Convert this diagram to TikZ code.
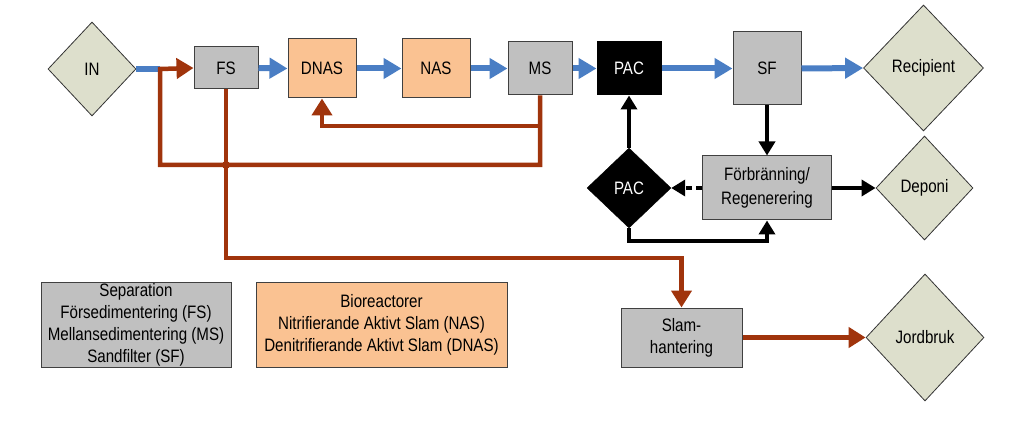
\documentclass[tikz,border=0pt]{standalone}
\usepackage{fontspec}
\setmainfont{Liberation Sans}[FakeStretch=0.84]
\usetikzlibrary{shapes.geometric,arrows.meta}
\definecolor{flowblue}{RGB}{74,126,196}
\definecolor{sludge}{RGB}{160,52,12}
\definecolor{boxgray}{RGB}{192,192,192}
\definecolor{peach}{RGB}{250,194,146}
\definecolor{dfill}{RGB}{221,223,204}
\begin{document}
\begin{tikzpicture}[x=1pt,y=-1pt,
  font=\fontsize{18}{22}\selectfont,
  graybox/.style={draw=black!75, fill=boxgray, line width=1pt, inner sep=0pt, align=center},
  peachbox/.style={draw=black!75, fill=peach, line width=1pt, inner sep=0pt, align=center},
  blackbox/.style={draw=black, fill=black, text=white, line width=1pt, inner sep=0pt},
  dnode/.style={diamond, draw=black!80, fill=dfill, line width=0.8pt, inner sep=0pt},
  blueflow/.style={draw=flowblue, line width=6pt, -{Triangle[length=18pt,width=20pt]}},
  sludgeline/.style={draw=sludge, line width=4.5pt},
  sludgearrow/.style={sludgeline, -{Triangle[length=17pt,width=20pt]}},
  blkarrow/.style={draw=black, line width=4pt, -{Triangle[length=14pt,width=16pt]}}
]
\useasboundingbox (0,0) rectangle (1023,422);

% nodes
\node[dnode, minimum width=88pt, minimum height=94pt] (IN) at (92,69) {IN};
\node[graybox, minimum width=64pt, minimum height=42pt] (FS) at (226,68) {FS};
\node[peachbox, minimum width=68pt, minimum height=59pt] (DNAS) at (322,68.5) {DNAS};
\node[peachbox, minimum width=68pt, minimum height=59pt] (NAS) at (436,68.5) {NAS};
\node[graybox, minimum width=64pt, minimum height=53pt] (MS) at (540,68.5) {MS};
\node[blackbox, minimum width=64pt, minimum height=53pt] (PACb) at (629,68.5) {PAC};
\node[graybox, minimum width=68pt, minimum height=73pt] (SF) at (767,68.5) {SF};
\node[dnode, minimum width=120pt, minimum height=126pt] (Rec) at (923.5,68) {Recipient};
\node[diamond, draw=black, fill=black, text=white, inner sep=0pt, minimum width=84pt, minimum height=80pt] (PACd) at (629,188) {PAC};
\node[graybox, minimum width=129pt, minimum height=64pt, font=\fontsize{18}{24}\selectfont] (FB) at (767,188) {Förbränning/\\Regenerering};
\node[dnode, minimum width=97pt, minimum height=104pt] (Dep) at (924.5,188) {Deponi};
\node[graybox, minimum width=121pt, minimum height=59pt] (Slam) at (681.5,337.5) {Slam-\\hantering};
\node[dnode, minimum width=118pt, minimum height=127pt] (Jord) at (925,337.5) {Jordbruk};
\node[graybox, minimum width=190pt, minimum height=85pt] (Sep) at (136,324.5) {Separation\\Försedimentering (FS)\\Mellansedimentering (MS)\\Sandfilter (SF)};
\node[peachbox, minimum width=251pt, minimum height=85pt] (Bio) at (381.5,324.5) {Bioreactorer\\Nitrifierande Aktivt Slam (NAS)\\Denitrifierande Aktivt Slam (DNAS)};

% junction coordinates
\coordinate (jL) at (160,165);
\coordinate (jM) at (540,165);
\coordinate (jB) at (540,126);
\coordinate (jX) at (226,165);
\coordinate (fsb) at (226,258);
\coordinate (pb) at (629,241);
\coordinate (inj) at (160,69);

% blue main flow
\draw[draw=flowblue, line width=6pt] (IN.east) -- (inj);
\draw[blueflow] (FS.east) -- (DNAS.west);
\draw[blueflow] (DNAS.east) -- (NAS.west);
\draw[blueflow] (NAS.east) -- (MS.west);
\draw[blueflow] (MS.east) -- (PACb.west);
\draw[blueflow] (PACb.east) -- (SF.west);
\draw[blueflow] (SF.east) -- (Rec.west);

% sludge return
\draw[sludgearrow] (MS.south) -- (jM) -- (jL) -- (inj) -- (FS.west);
\draw[sludgearrow] (jB) -| (DNAS.south);
\draw[sludgearrow] (FS.south) -- (fsb) -| (Slam.north);
\fill[sludge] (jX) circle (4pt);
\draw[sludgearrow] (Slam.east) -- (Jord.west);

% black PAC loop
\draw[blkarrow] (SF.south) -- (FB.north);
\draw[blkarrow] (PACd.north) -- (PACb.south);
\draw[blkarrow] (PACd.south) -- (pb) -| (FB.south);
\draw[blkarrow, dash pattern=on 6pt off 4pt] (FB.west) -- (PACd.east);
\draw[blkarrow] (FB.east) -- (Dep.west);
\end{tikzpicture}
\end{document}
